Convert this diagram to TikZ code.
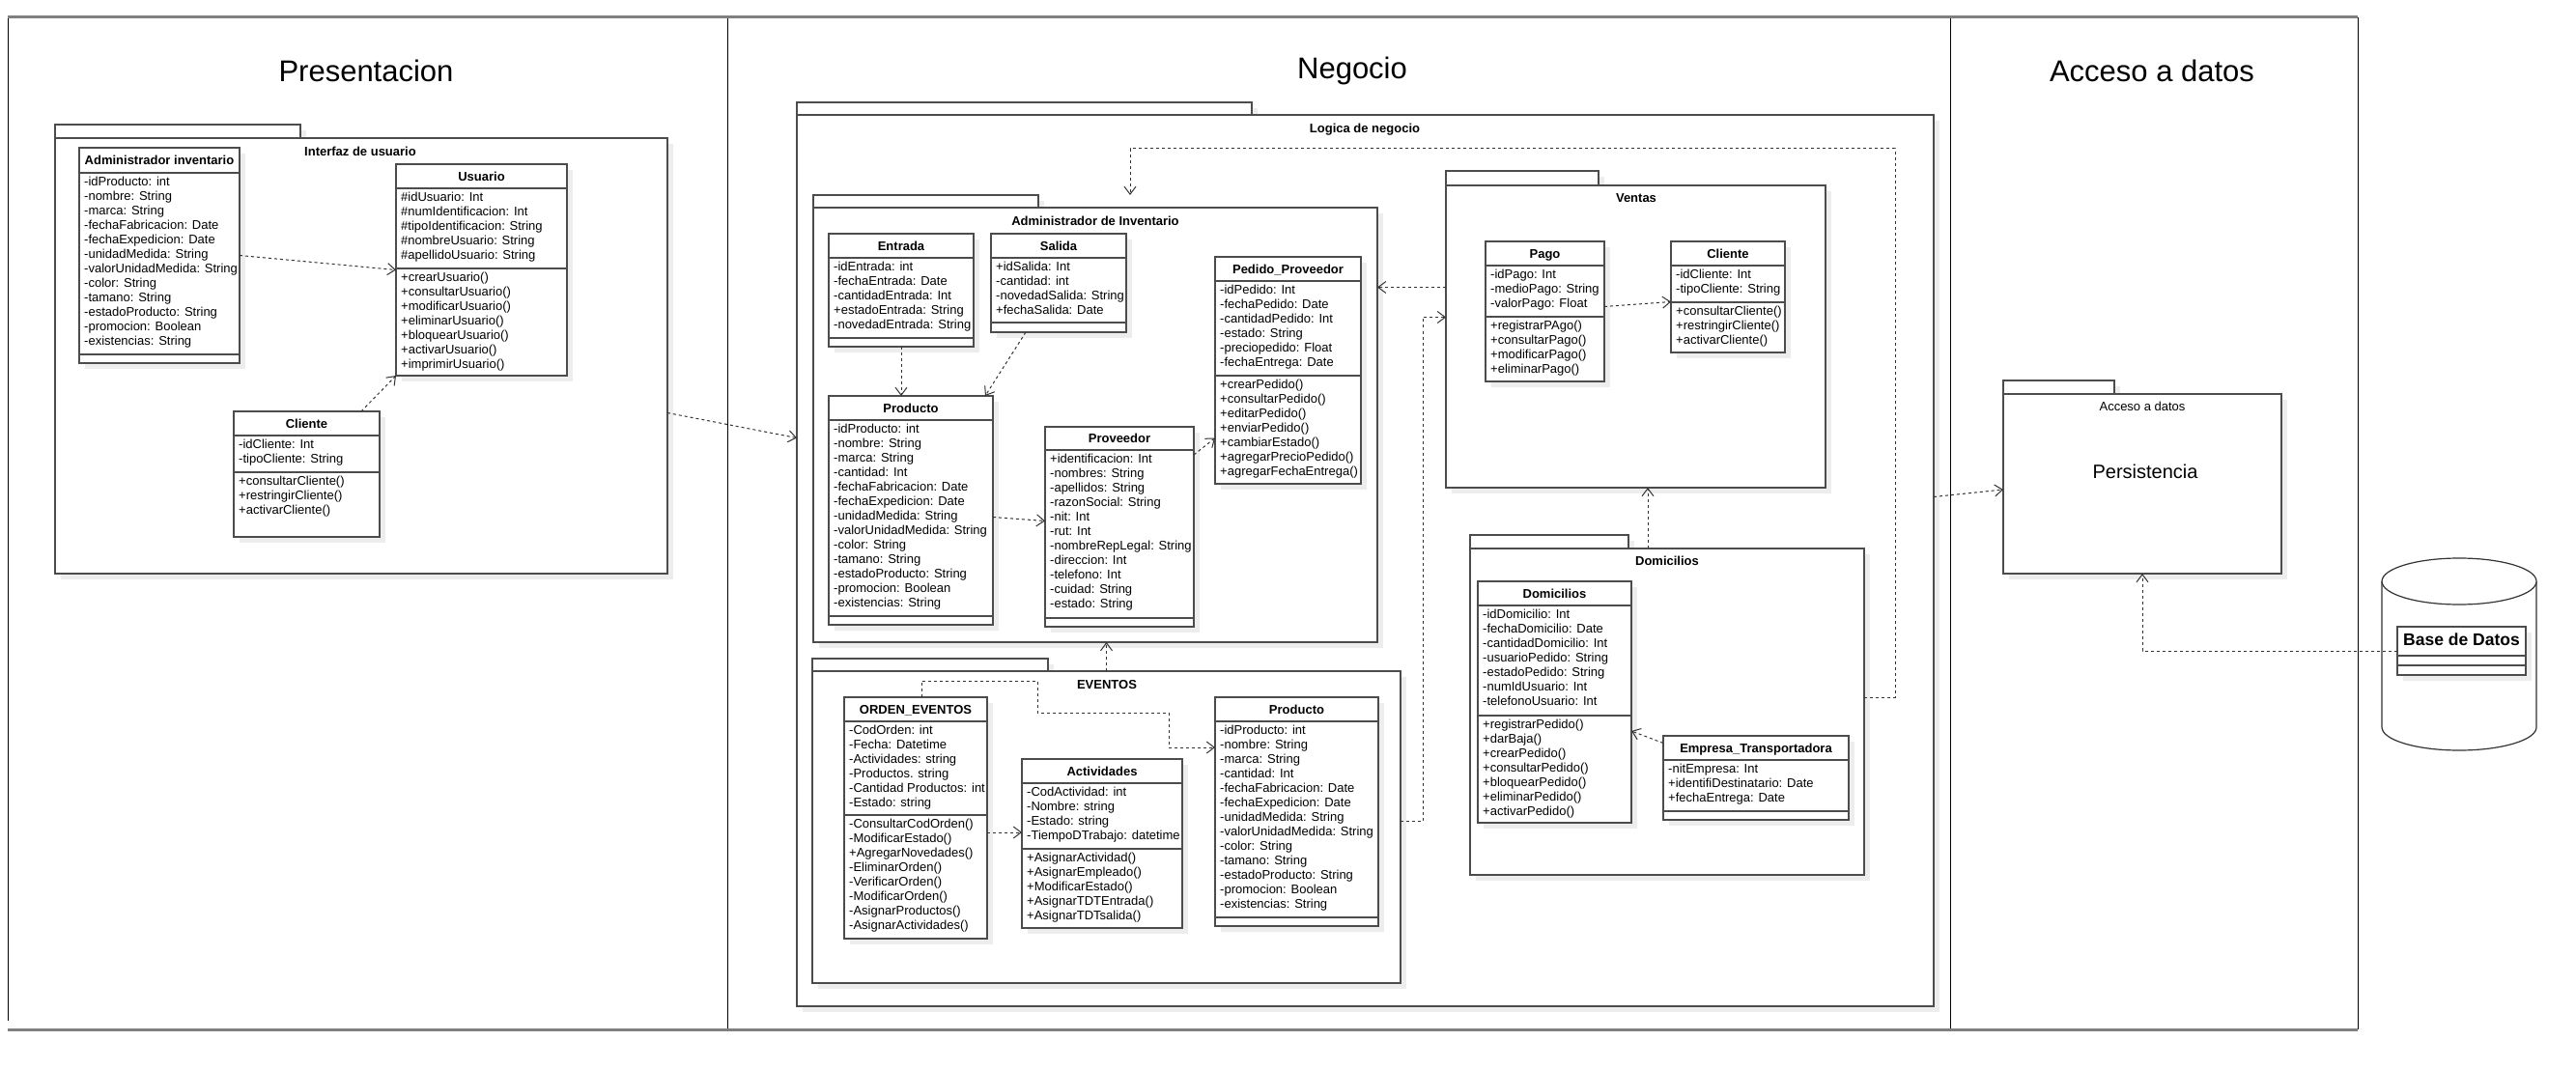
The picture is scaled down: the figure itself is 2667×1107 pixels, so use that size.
\documentclass[tikz,border=0pt]{standalone}
\usepackage{fontspec}
\setmainfont{Liberation Sans}
\usetikzlibrary{arrows.meta,shadows,calc}

\newcommand{\umlclass}[9]{%
  \pgfmathsetmacro{\clsh}{#4+#5+#6}%
  \pgfmathsetmacro{\clsa}{#4+#5}%
  \pgfmathsetmacro{\clst}{#4/2+4.6}%
  \node[clsbox, minimum width=#3pt, minimum height=\clsh pt, anchor=north west] (#1) at #2 {};
  \node[clstitle] at ([yshift=-\clst pt]#1.north) {#7};
  \draw[clsline] ([yshift=-#4pt]#1.north west) -- ([yshift=-#4pt]#1.north east);
  \draw[clsline] ([yshift=-\clsa pt]#1.north west) -- ([yshift=-\clsa pt]#1.north east);
  \node[clstext] at ([yshift=-#4pt]#1.north west) {\strut #8};
  \node[clstext] at ([yshift=-\clsa pt]#1.north west) {\strut #9};
}
\newcommand{\umlpkg}[7]{%
  \pgfmathsetmacro{\pkgw}{#6-#2}%
  \pgfmathsetmacro{\pkgh}{#7-#5}%
  \draw[pkgtab] (#2,#3) rectangle (#4,#5);
  \node[pkgbox, minimum width=\pkgw pt, minimum height=\pkgh pt, anchor=north west] (#1) at (#2,#5) {};
}

\begin{document}
\begin{tikzpicture}[x=1pt,y=-1pt,
  >={Straight Barb[length=8pt,width=12pt]},
  boxshadow/.style={drop shadow={shadow xshift=6pt,shadow yshift=-6pt,fill=black!7,opacity=1}},
  clsbox/.style={draw=black!70, line width=1.2pt, fill=white, inner sep=0pt, outer sep=0pt, boxshadow},
  clsline/.style={draw=black!70, line width=1.2pt},
  clstitle/.style={font=\fontsize{13}{15}\selectfont\bfseries, anchor=base, inner sep=0pt},
  clstext/.style={font=\fontsize{13}{15}\selectfont, align=left, anchor=north west, inner xsep=5pt, inner ysep=3pt},
  pkgtab/.style={draw=black!70, line width=1.2pt, fill=white, boxshadow},
  pkgbox/.style={draw=black!70, line width=1.2pt, fill=white, inner sep=0pt, outer sep=0pt, boxshadow},
  pkglabel/.style={font=\fontsize{13}{15}\selectfont\bfseries, inner sep=0pt},
  lanetitle/.style={font=\fontsize{31}{37}\selectfont, inner sep=0pt},
  lanerule/.style={draw=black!50, line width=3pt},
  laneline/.style={draw=black, line width=0.8pt},
  dep/.style={->, draw=black!80, line width=1pt, dash pattern=on 3pt off 3pt}]
\fill[white] (0,0) rectangle (2667,1107);
\useasboundingbox (0,0) rectangle (2667,1107);

\draw[laneline] (8,18) -- (8,1057);
\draw[laneline] (753,18) -- (753,1066);
\draw[laneline] (2019,18) -- (2019,1066);
\draw[laneline] (2441,18) -- (2441,1066);
\draw[lanerule] (8,18) -- (2441,18);
\draw[lanerule] (8,1066) -- (2441,1066);
\node[lanetitle] (prestitle) at (379,73) {Presentacion};
\node[lanetitle] (negtitle) at (1400,73) {Negocio};
\node[lanetitle] (acctitle) at (2228,73) {Acceso a datos};

\umlpkg{interfaz}{57}{129}{311}{143}{691}{594}
\node[pkglabel] (interfazlbl) at (373,157) {Interfaz de usuario};
\umlpkg{logica}{825}{106}{1296}{119}{2002}{1042}
\node[pkglabel] (logicalbl) at (1413,134) {Logica de negocio};
\umlpkg{admpkg}{842}{202}{1075}{215}{1426}{665}
\node[pkglabel] (admpkglbl) at (1134,229) {Administrador de Inventario};
\umlpkg{eventos}{841}{682}{1085}{695}{1450}{1018}
\node[pkglabel] (eventoslbl) at (1146,709) {EVENTOS};
\umlpkg{ventas}{1497}{177}{1655}{192}{1890}{505}
\node[pkglabel] (ventaslbl) at (1694,205) {Ventas};
\umlpkg{domic}{1522}{554}{1686}{568}{1930}{906}
\node[pkglabel] (domiclbl) at (1726,581) {Domicilios};
\umlpkg{acceso}{2074}{394}{2189}{408}{2362}{594}
\node[pkglabel, font=\fontsize{13}{15}\selectfont] (accesolbl) at (2218,421) {Acceso a datos};
\node[font=\fontsize{20}{24}\selectfont, inner sep=0pt] (persist) at (2221,488) {Persistencia};

\umlclass{admininv}{(82,153)}{166}{26}{188}{9}{Administrador inventario}
  {-idProducto: int\\-nombre: String\\-marca: String\\-fechaFabricacion: Date\\-fechaExpedicion: Date\\-unidadMedida: String\\-valorUnidadMedida: String\\-color: String\\-tamano: String\\-estadoProducto: String\\-promocion: Boolean\\-existencias: String}{}
\umlclass{usuario}{(410,170)}{177}{25}{83}{111}{Usuario}
  {\#idUsuario: Int\\\#numIdentificacion: Int\\\#tipoIdentificacion: String\\\#nombreUsuario: String\\\#apellidoUsuario: String}
  {+crearUsuario()\\+consultarUsuario()\\+modificarUsuario()\\+eliminarUsuario()\\+bloquearUsuario()\\+activarUsuario()\\+imprimirUsuario()}
\umlclass{cliente}{(242,426)}{151}{25}{38}{67}{Cliente}
  {-idCliente: Int\\-tipoCliente: String}
  {+consultarCliente()\\+restringirCliente()\\+activarCliente()}

\umlclass{entrada}{(858,242)}{150}{25}{83}{9}{Entrada}
  {-idEntrada: int\\-fechaEntrada: Date\\-cantidadEntrada: Int\\+estadoEntrada: String\\-novedadEntrada: String}{}
\umlclass{salida}{(1026,242)}{140}{25}{67}{10}{Salida}
  {+idSalida: Int\\-cantidad: int\\-novedadSalida: String\\+fechaSalida: Date}{}
\umlclass{producto}{(858,410)}{170}{25}{203}{9}{Producto}
  {-idProducto: int\\-nombre: String\\-marca: String\\-cantidad: Int\\-fechaFabricacion: Date\\-fechaExpedicion: Date\\-unidadMedida: String\\-valorUnidadMedida: String\\-color: String\\-tamano: String\\-estadoProducto: String\\-promocion: Boolean\\-existencias: String}{}
\umlclass{proveedor}{(1082,442)}{154}{24}{174}{9}{Proveedor}
  {+identificacion: Int\\-nombres: String\\-apellidos: String\\-razonSocial: String\\-nit: Int\\-rut: Int\\-nombreRepLegal: String\\-direccion: Int\\-telefono: Int\\-cuidad: String\\-estado: String}{}
\umlclass{pedido}{(1258,266)}{151}{25}{98}{112}{Pedido\_Proveedor}
  {-idPedido: Int\\-fechaPedido: Date\\-cantidadPedido: Int\\-estado: String\\-preciopedido: Float\\-fechaEntrega: Date}
  {+crearPedido()\\+consultarPedido()\\+editarPedido()\\+enviarPedido()\\+cambiarEstado()\\+agregarPrecioPedido()\\+agregarFechaEntrega()}

\umlclass{orden}{(874,722)}{148}{25}{97}{128}{ORDEN\_EVENTOS}
  {-CodOrden: int\\-Fecha: Datetime\\-Actividades: string\\-Productos. string\\-Cantidad Productos: int\\-Estado: string}
  {-ConsultarCodOrden()\\-ModificarEstado()\\+AgregarNovedades()\\-EliminarOrden()\\-VerificarOrden()\\-ModificarOrden()\\-AsignarProductos()\\-AsignarActividades()}
\umlclass{activ}{(1058,786)}{166}{25}{68}{82}{Actividades}
  {-CodActividad: int\\-Nombre: string\\-Estado: string\\-TiempoDTrabajo: datetime}
  {+AsignarActividad()\\+AsignarEmpleado()\\+ModificarEstado()\\+AsignarTDTEntrada()\\+AsignarTDTsalida()}
\umlclass{productoev}{(1258,722)}{169}{25}{203}{9}{Producto}
  {-idProducto: int\\-nombre: String\\-marca: String\\-cantidad: Int\\-fechaFabricacion: Date\\-fechaExpedicion: Date\\-unidadMedida: String\\-valorUnidadMedida: String\\-color: String\\-tamano: String\\-estadoProducto: String\\-promocion: Boolean\\-existencias: String}{}

\umlclass{pago}{(1538,250)}{123}{25}{53}{67}{Pago}
  {-idPago: Int\\-medioPago: String\\-valorPago: Float}
  {+registrarPAgo()\\+consultarPago()\\+modificarPago()\\+eliminarPago()}
\umlclass{clienteven}{(1730,250)}{118}{25}{38}{52}{Cliente}
  {-idCliente: Int\\-tipoCliente: String}
  {+consultarCliente()\\+restringirCliente()\\+activarCliente()}

\umlclass{domicilio}{(1530,602)}{159}{25}{114}{111}{Domicilios}
  {-idDomicilio: Int\\-fechaDomicilio: Date\\-cantidadDomicilio: Int\\-usuarioPedido: String\\-estadoPedido: String\\-numIdUsuario: Int\\-telefonoUsuario: Int}
  {+registrarPedido()\\+darBaja()\\+crearPedido()\\+consultarPedido()\\+bloquearPedido()\\+eliminarPedido()\\+activarPedido()}
\umlclass{empresa}{(1722,762)}{192}{25}{53}{9}{Empresa\_Transportadora}
  {-nitEmpresa: Int\\+identifiDestinatario: Date\\+fechaEntrega: Date}{}

\draw[draw=black!80, line width=1.2pt, fill=white] (2466,602) -- (2466,753)
  arc[start angle=180, end angle=0, x radius=80, y radius=24] -- (2626,602);
\draw[draw=black!80, line width=1.2pt, fill=white] (2546,602) ellipse[x radius=80, y radius=24];
\umlclass{basedatos}{(2482,649)}{133}{30}{10}{10}{\fontsize{17.5}{20}\selectfont Base de Datos}{}{}

\draw[dep] (admininv.east) -- (usuario.west);
\draw[dep] ([xshift=-19pt]cliente.north east) -- (usuario.south west);
\draw[dep] (entrada.south) -- (entrada.south |- producto.north);
\draw[dep] ([xshift=-34pt]salida.south) -- ([xshift=-8pt]producto.north east);
\draw[dep] ([yshift=-7pt]producto.east) -- ([yshift=6pt]proveedor.west);
\draw[dep] ([yshift=-29pt]proveedor.north east) -- ([yshift=-70pt]pedido.west);
\draw[dep] ([yshift=51pt]ventas.west) -- ([yshift=51pt]ventas.west -| admpkg.east);
\draw[dep] ([yshift=6pt]eventos.east) -- ++(23,0) |- ([yshift=20pt]ventas.west);
\draw[dep] ([xshift=-20pt]domic.north) -- ([xshift=-20pt]domic.north |- ventas.south);
\coordinate (loopcorner) at (1962,154);
\draw[dep] ([yshift=15pt]domic.east) -| (loopcorner) -| ([xshift=36pt,yshift=13pt]admpkg.north);
\draw[dep] ([yshift=36pt]empresa.west) -- ([yshift=-30pt]domicilio.east);
\draw[dep] ([yshift=5pt]pago.east) -- ([yshift=-5pt]clienteven.west);
\draw[dep] ([xshift=6pt]orden.north) |- (1074,705) |- (1210,738) |- ([yshift=-52pt]productoev.north west);
\draw[dep] ([yshift=-15pt]orden.east) -- ([yshift=-15pt]orden.east -| activ.west);
\draw[dep] (eventos.north) -- (eventos.north |- admpkg.south);
\draw[dep] ([yshift=-59pt]interfaz.east) -- ([yshift=127pt]logica.west);
\draw[dep] ([yshift=66pt]logica.east) -- ([yshift=-6pt]acceso.west);
\draw[dep] (basedatos.west) -| (acceso.south);
\end{tikzpicture}
\end{document}
